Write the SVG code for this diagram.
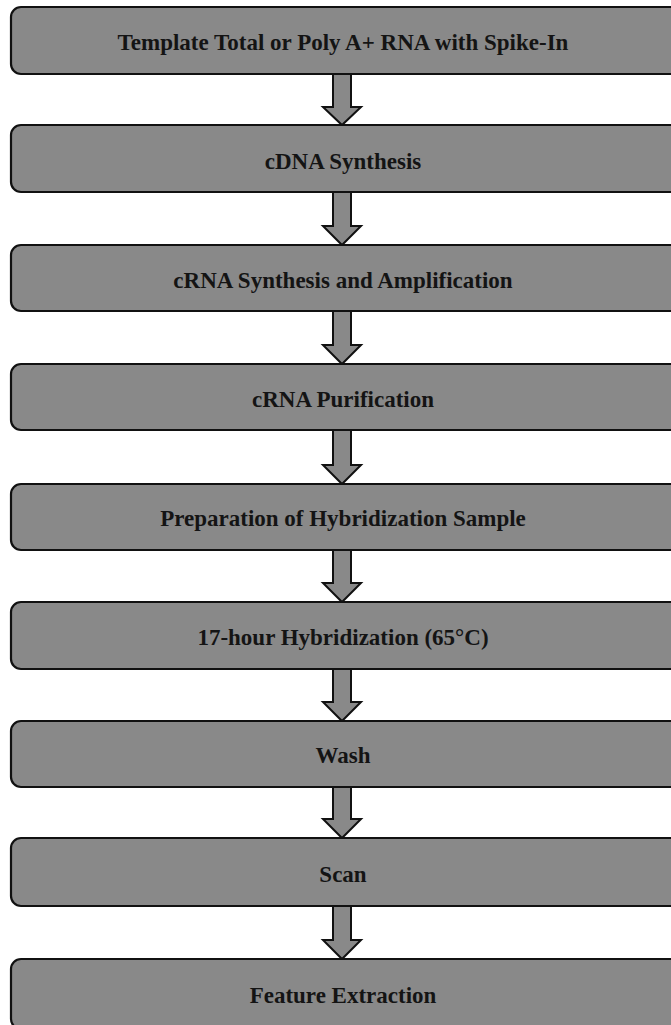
<svg xmlns="http://www.w3.org/2000/svg" width="671" height="1025" viewBox="0 0 671 1025">
<style>
.box{fill:#898989;stroke:#111;stroke-width:2.2}
.lbl{font-family:"Liberation Serif","Times New Roman",serif;font-weight:bold;font-size:23px;fill:#141414;text-anchor:middle;dominant-baseline:central}
.arr{fill:#898989;stroke:#111;stroke-width:2;stroke-linejoin:miter}
</style>
<rect width="671" height="1025" fill="#fff"/>
<g id="connectors">
<polygon class="arr" points="333,74 351,74 351,107 361,107 342,125 323,107 333,107"/>
<polygon class="arr" points="333,192 351,192 351,226 361,226 342,245 323,226 333,226"/>
<polygon class="arr" points="333,311 351,311 351,345 361,345 342,364 323,345 333,345"/>
<polygon class="arr" points="333,430 351,430 351,465 361,465 342,484 323,465 333,465"/>
<polygon class="arr" points="333,550 351,550 351,583 361,583 342,602 323,583 333,583"/>
<polygon class="arr" points="333,669 351,669 351,702 361,702 342,721 323,702 333,702"/>
<polygon class="arr" points="333,787 351,787 351,819 361,819 342,838 323,819 333,819"/>
<polygon class="arr" points="333,906 351,906 351,940 361,940 342,959 323,940 333,940"/>
</g>
<g id="n1"><rect class="box" x="11" y="7" width="670" height="67" rx="10"/><text class="lbl" x="343" y="42">Template Total or Poly A+ RNA with Spike-In</text></g>
<g id="n2"><rect class="box" x="11" y="125" width="670" height="67" rx="10"/><text class="lbl" x="343" y="161">cDNA Synthesis</text></g>
<g id="n3"><rect class="box" x="11" y="245" width="670" height="66" rx="10"/><text class="lbl" x="343" y="280">cRNA Synthesis and Amplification</text></g>
<g id="n4"><rect class="box" x="11" y="364" width="670" height="66" rx="10"/><text class="lbl" x="343" y="399">cRNA Purification</text></g>
<g id="n5"><rect class="box" x="11" y="484" width="670" height="66" rx="10"/><text class="lbl" x="343" y="518">Preparation of Hybridization Sample</text></g>
<g id="n6"><rect class="box" x="11" y="602" width="670" height="67" rx="10"/><text class="lbl" x="343" y="637">17-hour Hybridization (65°C)</text></g>
<g id="n7"><rect class="box" x="11" y="721" width="670" height="66" rx="10"/><text class="lbl" x="343" y="755">Wash</text></g>
<g id="n8"><rect class="box" x="11" y="838" width="670" height="68" rx="10"/><text class="lbl" x="343" y="874">Scan</text></g>
<g id="n9"><rect class="box" x="11" y="959" width="670" height="70" rx="10"/><text class="lbl" x="343" y="995">Feature Extraction</text></g>
</svg>
